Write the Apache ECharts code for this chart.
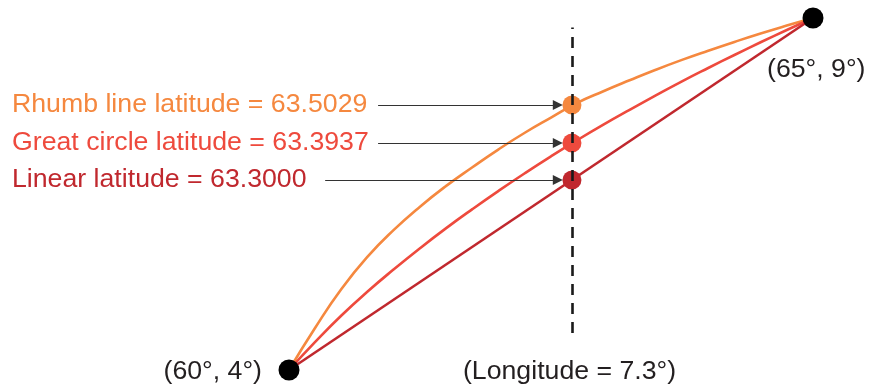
<!DOCTYPE html>
<html>
<head>
<meta charset="utf-8">
<script src="https://cdn.jsdelivr.net/npm/echarts@6/dist/echarts.min.js"></script>
<style>
html,body{margin:0;padding:0;background:#fff;}
#chart{width:874px;height:386px;}
</style>
</head>
<body>
<div id="chart"></div>
<script>
// Schematic diagram coordinates (0..100 along each direction, start point to end point)
const rhumbX = [0, 5, 10, 15, 20, 25, 30, 35, 40, 45, 50, 55, 60, 65, 70, 75, 80, 85, 90, 95, 100];
const rhumbY = [0, 12.0, 23.0, 32.2, 39.8, 46.4, 52.3, 57.6, 62.7, 67.4, 71.7, 75.9, 79.2, 82.3, 85.3, 88.1, 90.7, 93.2, 95.6, 97.85, 100];
const greatX = [0, 5, 10, 15, 20, 25, 30, 35, 40, 45, 50, 55, 60, 65, 70, 75, 80, 85, 90, 95, 100];
const greatY = [0, 8.0, 15.5, 22.3, 28.6, 34.6, 40.3, 45.7, 50.9, 55.9, 60.7, 65.3, 69.7, 73.9, 78.0, 82.0, 85.8, 89.5, 93.1, 96.6, 100];
const linearX = [0, 100];
const linearY = [0, 100];
const crossX = 54;                       // position of the longitude line in diagram units
const crossY = [75.3, 64.5, 54];         // rhumb, great circle, linear at crossing
const seriesNames = ['Rhumb line latitude', 'Great circle latitude', 'Linear latitude'];
const latValues = ['63.5029', '63.3937', '63.3000'];
const endLabels = ['(60°, 4°)', '(65°, 9°)'];
const lonLabel = '(Longitude = 7.3°)';

const colors = ['#f5883f', '#ee4a3d', '#c0282e'];
const FONT = '"Liberation Sans", Arial, Helvetica, sans-serif';

const zip = (xs, ys) => xs.map((x, i) => [x, ys[i]]);

const chart = echarts.init(document.getElementById('chart'), null, {renderer: 'canvas'});

const arrowStarts = [17.0, 17.0, 6.9];
const arrowEnd = 51.3;

const option = {
  animation: false,
  backgroundColor: '#fff',
  grid: {left: 289, top: 18, width: 524, height: 352},
  xAxis: {type: 'value', min: 0, max: 100, show: false},
  yAxis: {type: 'value', min: 0, max: 100, show: false},
  series: [
    {
      type: 'line', name: 'guide', data: [], z: 1,
      markLine: {
        silent: true, symbol: ['none', 'none'], label: {show: false},
        lineStyle: {color: '#1a1a1a', width: 2.6, type: [11, 8]},
        data: [[{coord: [crossX, 10.5]}, {coord: [crossX, 97.3]}]]
      }
    },
    {type: 'line', name: seriesNames[0], data: zip(rhumbX, rhumbY), smooth: 0.5, showSymbol: false,
      lineStyle: {color: colors[0], width: 2.6}, z: 2},
    {type: 'line', name: seriesNames[1], data: zip(greatX, greatY), smooth: 0.5, showSymbol: false,
      lineStyle: {color: colors[1], width: 2.6}, z: 2},
    {type: 'line', name: seriesNames[2], data: zip(linearX, linearY), showSymbol: false,
      lineStyle: {color: colors[2], width: 2.6}, z: 2},
    {
      type: 'line', name: 'arrows', data: [], z: 3,
      markLine: {
        silent: true, symbol: ['none', 'triangle'], symbolSize: 10, label: {show: false},
        lineStyle: {color: '#333', width: 1.2, type: 'solid'},
        itemStyle: {color: '#333'},
        data: crossY.map((v, i) => [{coord: [arrowStarts[i], v]}, {coord: [arrowEnd, v]}])
      }
    },
    {type: 'scatter', name: 'crossings', symbolSize: 19, z: 4,
      data: crossY.map((v, i) => ({value: [crossX, v], itemStyle: {color: colors[i], opacity: 1}}))},
    {type: 'scatter', name: 'ends', symbolSize: 21, z: 4,
      itemStyle: {color: '#000', opacity: 1},
      data: [[linearX[0], linearY[0]], [linearX[1], linearY[1]]]}
  ]
};
chart.setOption(option);

function txt(text, x, y, color, align) {
  return {type: 'text', silent: true, z: 10,
    style: {text: text, x: x, y: y, fill: color, font: '26.7px ' + FONT,
      textAlign: align, align: align, textVerticalAlign: 'middle', verticalAlign: 'middle'}};
}
const labelY = crossY.map(v => chart.convertToPixel({gridIndex: 0}, [crossX, v])[1]);
const p0 = chart.convertToPixel({gridIndex: 0}, [linearX[0], linearY[0]]);
const p1 = chart.convertToPixel({gridIndex: 0}, [linearX[1], linearY[1]]);
const pc = chart.convertToPixel({gridIndex: 0}, [crossX, 0]);
const graphics = seriesNames.map((n, i) => txt(n + ' = ' + latValues[i], 12, labelY[i], colors[i], 'left'));
graphics.push(txt(endLabels[0], p0[0] - 27, p0[1] + 2, '#231f20', 'right'));
graphics.push(txt(endLabels[1], p1[0] - 46, p1[1] + 52, '#231f20', 'left'));
graphics.push(txt(lonLabel, pc[0] - 109, p0[1] + 2, '#231f20', 'left'));
chart.setOption({graphic: graphics});
</script>
</body>
</html>
